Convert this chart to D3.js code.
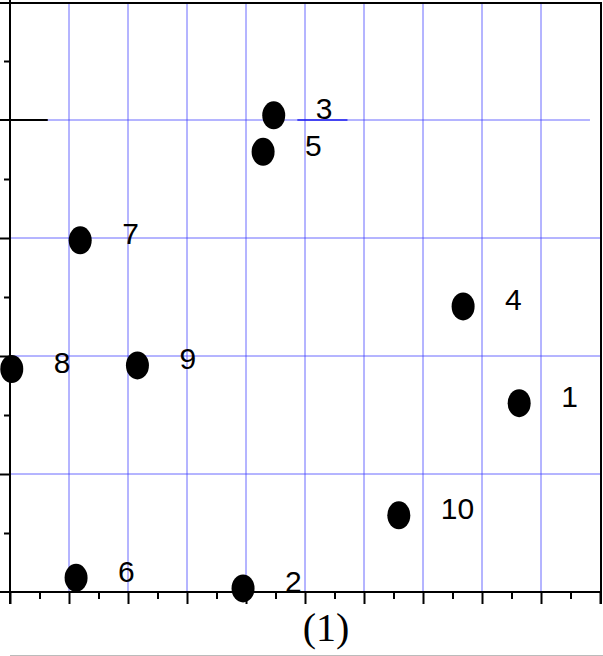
<!DOCTYPE html>
<html>
<head>
<meta charset="utf-8">
<script src="https://cdn.jsdelivr.net/npm/d3@7"></script>
<style>
  html, body { margin: 0; padding: 0; background: #fff; }
  svg { display: block; }
</style>
</head>
<body>
<svg id="chart" width="603" height="656"></svg>
<script>
// ---- data ----
const pointLabels = ["1", "2", "3", "4", "5", "6", "7", "8", "9", "10"];
const xValues = [8.63, 3.95, 4.47, 7.68, 4.29, 1.12, 1.19, 0.03, 2.16, 6.59];
const yValues = [1.60, 0.03, 4.04, 2.42, 3.73, 0.12, 2.98, 1.89, 1.92, 0.65];
const xMajorTicks = [0, 1, 2, 3, 4, 5, 6, 7, 8, 9, 10];
const xMinorTicks = [0.5, 1.5, 2.5, 3.5, 4.5, 5.5, 6.5, 7.5, 8.5, 9.5];
const yMajorTicks = [1, 2, 3];
const yMinorTicks = [0.5, 1.5, 2.5, 3.5, 4.5];
const xGridValues = [1, 2, 3, 4, 5, 6, 7, 8, 9];
const yGridValues = [1, 2, 3, 4];
const axisTitle = "(1)";

// ---- layout ----
const svg = d3.select("#chart");
const plotLeft = 10, plotRight = 600, plotTop = 2, plotBottom = 592;
const x = d3.scaleLinear().domain([0, 10]).range([plotLeft, plotRight]);
const y = d3.scaleLinear().domain([0, 5]).range([plotBottom, plotTop]);

const gridColor = "#3a3aff";

// vertical grid
svg.append("g").selectAll("line").data(xGridValues).join("line")
  .attr("x1", d => x(d)).attr("x2", d => x(d))
  .attr("y1", y(5)).attr("y2", y(0))
  .attr("stroke", gridColor).attr("stroke-opacity", 0.75).attr("stroke-width", 1);

// horizontal grid
svg.append("g").selectAll("line").data(yGridValues).join("line")
  .attr("x1", x(0)).attr("x2", d => d === 4 ? x(9.83) : x(10))
  .attr("y1", d => y(d)).attr("y2", d => y(d))
  .attr("stroke", gridColor).attr("stroke-opacity", 0.75).attr("stroke-width", 1);

// darker segment on the y=4 line near label 3
svg.append("line")
  .attr("x1", x(4.87)).attr("x2", x(5.72))
  .attr("y1", y(4)).attr("y2", y(4))
  .attr("stroke", "#2020ee").attr("stroke-width", 1.6);

// x axis (bottom)
const xAxisMajor = d3.axisBottom(x).tickValues(xMajorTicks).tickSize(12).tickFormat("");
const xAxisMinor = d3.axisBottom(x).tickValues(xMinorTicks).tickSize(7).tickFormat("");
const gx = svg.append("g").attr("transform", `translate(0,${plotBottom})`).call(xAxisMajor);
const gx2 = svg.append("g").attr("transform", `translate(0,${plotBottom})`).call(xAxisMinor);
[gx, gx2].forEach(g => {
  g.select(".domain").remove();
  g.selectAll(".tick line").attr("stroke", "#000").attr("stroke-width", 2);
});
svg.append("line").attr("x1", 0).attr("x2", x(10) + 1)
  .attr("y1", plotBottom).attr("y2", plotBottom)
  .attr("stroke", "#000").attr("stroke-width", 2);

// y axis (left)
const yAxisMajor = d3.axisLeft(y).tickValues(yMajorTicks).tickSize(10).tickFormat("");
const yAxisMinor = d3.axisLeft(y).tickValues(yMinorTicks).tickSize(6).tickFormat("");
const gy = svg.append("g").attr("transform", `translate(${plotLeft},0)`).call(yAxisMajor);
const gy2 = svg.append("g").attr("transform", `translate(${plotLeft},0)`).call(yAxisMinor);
[gy, gy2].forEach(g => {
  g.select(".domain").remove();
  g.selectAll(".tick line").attr("stroke", "#000").attr("stroke-width", 2);
});
svg.append("line").attr("x1", plotLeft).attr("x2", plotLeft)
  .attr("y1", 0).attr("y2", plotBottom + 12)
  .attr("stroke", "#000").attr("stroke-width", 2);

// long tick at y=4
svg.append("line").attr("x1", 0).attr("x2", x(0.64))
  .attr("y1", y(4)).attr("y2", y(4))
  .attr("stroke", "#000").attr("stroke-width", 2);

// top border
svg.append("line").attr("x1", 0).attr("x2", x(10) + 2)
  .attr("y1", y(5) + 1).attr("y2", y(5) + 1)
  .attr("stroke", "#000").attr("stroke-width", 2);
// right border
svg.append("line").attr("x1", x(10) + 1).attr("x2", x(10) + 1)
  .attr("y1", y(5)).attr("y2", plotBottom + 12)
  .attr("stroke", "#000").attr("stroke-width", 2);

// bottom faint line
svg.append("line").attr("x1", plotLeft).attr("x2", 603)
  .attr("y1", 655.5).attr("y2", 655.5)
  .attr("stroke", "#bbb").attr("stroke-width", 1);

// points
const pts = pointLabels.map((l, i) => ({ label: l, x: xValues[i], y: yValues[i] }));
svg.append("g").selectAll("ellipse").data(pts).join("ellipse")
  .attr("cx", d => x(d.x)).attr("cy", d => y(d.y))
  .attr("rx", 11.5).attr("ry", 14)
  .attr("fill", "#000");

svg.append("g").selectAll("text").data(pts).join("text")
  .attr("x", d => x(d.x) + 42)
  .attr("y", d => y(d.y) + 4)
  .attr("font-family", "'Liberation Sans', Arial, sans-serif")
  .attr("font-size", 30)
  .attr("fill", "#000")
  .text(d => d.label);

// axis title
svg.append("text")
  .attr("x", 326).attr("y", 641)
  .attr("text-anchor", "middle")
  .attr("font-family", "'Liberation Serif', 'Times New Roman', serif")
  .attr("font-size", 40)
  .attr("fill", "#000")
  .text(axisTitle);
</script>
</body>
</html>
